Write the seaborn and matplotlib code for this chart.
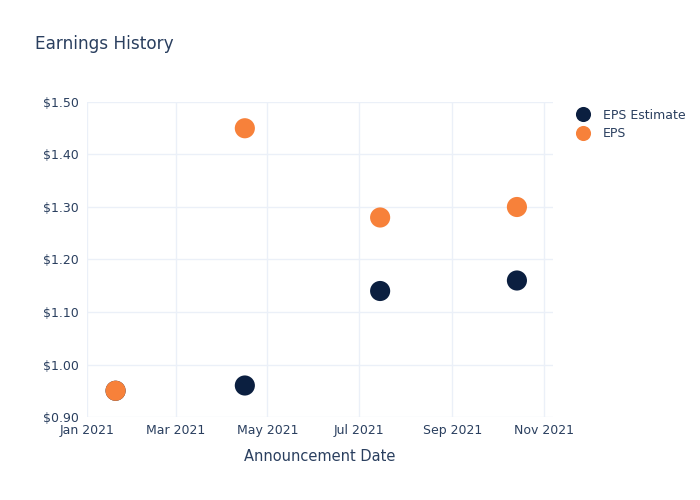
import matplotlib
matplotlib.use("Agg")
import matplotlib.pyplot as plt
import matplotlib.dates as mdates
import matplotlib.ticker as mticker
import seaborn as sns
import pandas as pd

dates = ["2021-01-20", "2021-04-16", "2021-07-15", "2021-10-14"]
eps_estimate = [0.95, 0.96, 1.14, 1.16]
eps_actual = [0.95, 1.45, 1.28, 1.30]
series_names = ["EPS Estimate", "EPS"]
colors = ["#0b1f40", "#f7813a"]

df = pd.DataFrame({
    "date": pd.to_datetime(dates * 2),
    "value": eps_estimate + eps_actual,
    "series": [series_names[0]] * len(dates) + [series_names[1]] * len(dates),
})

sns.set_style("white")
plt.rcParams["font.family"] = ["DejaVu Sans"]
text_color = "#2a3f5f"
grid_color = "#ebf0f8"

fig = plt.figure(figsize=(7, 5), dpi=100)
ax = fig.add_axes([87 / 700, 1 - 417 / 500, (553 - 87) / 700, (417 - 102) / 500])

sns.scatterplot(data=df, x="date", y="value", hue="series", hue_order=series_names,
                palette=colors, s=210, edgecolor="none", ax=ax, zorder=3, legend=True)

ax.set_xlim(pd.Timestamp("2021-01-01"), pd.Timestamp("2021-11-07"))
ax.set_ylim(0.90, 1.50)
ax.xaxis.set_major_locator(mdates.MonthLocator(bymonth=[1, 3, 5, 7, 9, 11]))
ax.xaxis.set_major_formatter(mdates.DateFormatter("%b %Y"))
ax.yaxis.set_major_locator(mticker.MultipleLocator(0.10))
ax.yaxis.set_major_formatter(mticker.FuncFormatter(lambda v, p: f"${v:.2f}"))

ax.grid(True, color=grid_color, linewidth=1, zorder=0)
ax.set_axisbelow(True)
for sp in ax.spines.values():
    sp.set_visible(False)
ax.tick_params(axis="both", length=0, labelsize=9, colors=text_color)
ax.tick_params(axis="x", pad=5)
ax.tick_params(axis="y", pad=6)

ax.set_xlabel("Announcement Date", fontsize=10.5, color=text_color, labelpad=9)
ax.set_ylabel("")

fig.text(35 / 700, 1 - 44 / 500, "Earnings History", fontsize=12.2, color=text_color,
         va="center", ha="left")

leg = ax.legend(loc="upper left", bbox_to_anchor=(1.013, 1.014), frameon=False,
                fontsize=9, labelcolor=text_color, handletextpad=0.6,
                labelspacing=0.42, markerscale=0.75)

fig.savefig("out.png", dpi=100)
